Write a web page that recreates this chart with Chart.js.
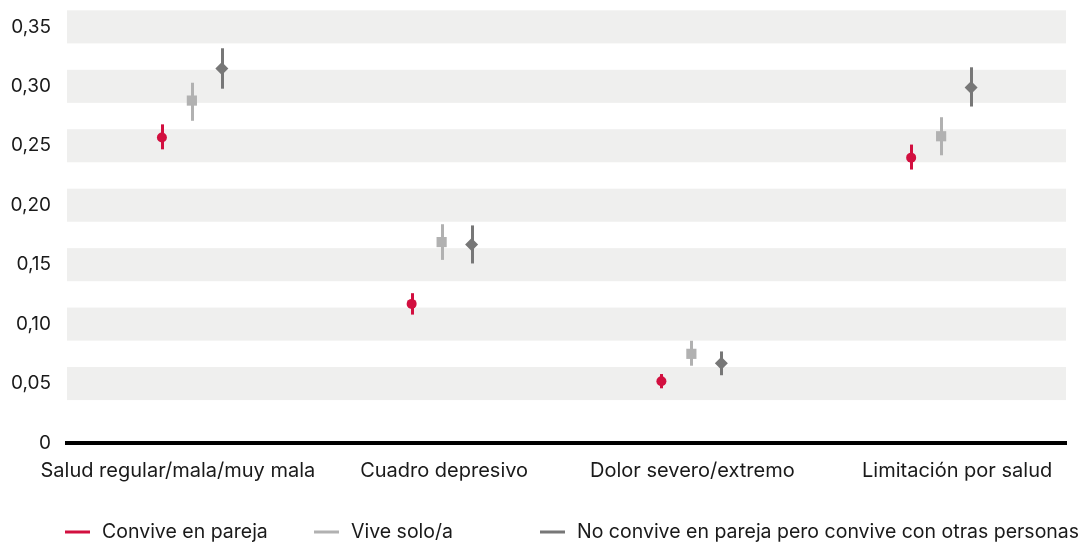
<!DOCTYPE html>
<html>
<head>
<meta charset="utf-8">
<script src="https://cdn.jsdelivr.net/npm/chart.js@4"></script>
<style>
  html, body { margin: 0; padding: 0; background: #fff; }
  #wrap { width: 1079px; height: 543px; }
</style>
</head>
<body>
<div id="wrap"><canvas id="chart"></canvas></div>
<script>
// Data
const categories = [
  'Salud regular/mala/muy mala',
  'Cuadro depresivo',
  'Dolor severo/extremo',
  'Limitación por salud'
];
const yTicks = [0, 0.05, 0.10, 0.15, 0.20, 0.25, 0.30, 0.35];

const pareja      = [0.257, 0.117, 0.052, 0.240];
const parejaLow   = [0.247, 0.108, 0.046, 0.230];
const parejaHigh  = [0.268, 0.126, 0.058, 0.251];

const solo        = [0.288, 0.169, 0.075, 0.258];
const soloLow     = [0.271, 0.154, 0.065, 0.242];
const soloHigh    = [0.303, 0.184, 0.086, 0.274];

const otras       = [0.315, 0.167, 0.067, 0.299];
const otrasLow    = [0.298, 0.151, 0.057, 0.283];
const otrasHigh   = [0.332, 0.183, 0.077, 0.316];

const RED = '#d20f3f';
const LIGHT = '#b1b1b1';
const DARK = '#777777';
const TEXT = '#1a1a1a';
const FONT = 'Inter, "Noto Sans", sans-serif';

// layout tweaks
const shift = 0.12;                          // series offset inside a category
const labelNudge = [-0.056, 0.01, 0.004, 0.064]; // category label offsets
const legendSlots = [65, 314, 540];          // legend item start (px)

function series(label, values, low, high, color, style, radius, offset) {
  return {
    label: label,
    data: values.map((v, i) => ({ x: i + offset, y: v, lo: low[i], hi: high[i] })),
    backgroundColor: color,
    borderColor: color,
    pointStyle: style,
    pointRadius: radius,
    pointHoverRadius: radius,
    borderWidth: 0,
    showLine: false
  };
}

// grey bands around every tick except 0
const bandsPlugin = {
  id: 'bands',
  beforeDraw(chart) {
    const { ctx, chartArea, scales } = chart;
    const y = scales.y;
    ctx.save();
    ctx.fillStyle = '#efefee';
    yTicks.forEach(t => {
      if (t === 0) return;
      const top = y.getPixelForValue(t + 0.0139);
      const bot = y.getPixelForValue(t - 0.0139);
      ctx.fillRect(chartArea.left, top, chartArea.right - chartArea.left, bot - top);
    });
    ctx.restore();
  }
};

// vertical error bars
const errorBarsPlugin = {
  id: 'errorBars',
  beforeDatasetsDraw(chart) {
    const { ctx, scales } = chart;
    ctx.save();
    ctx.lineWidth = 3;
    chart.data.datasets.forEach(ds => {
      ctx.strokeStyle = ds.borderColor;
      ds.data.forEach(p => {
        const x = Math.round(scales.x.getPixelForValue(p.x)) + 0.5;
        ctx.beginPath();
        ctx.moveTo(x, scales.y.getPixelForValue(p.hi));
        ctx.lineTo(x, scales.y.getPixelForValue(p.lo));
        ctx.stroke();
      });
    });
    ctx.restore();
  }
};

// legend with fixed columns
const legendPlugin = {
  id: 'slotLegend',
  afterDraw(chart) {
    const { ctx } = chart;
    const y = 532;
    ctx.save();
    ctx.font = '19.5px ' + FONT;
    ctx.textBaseline = 'middle';
    ctx.textAlign = 'left';
    chart.data.datasets.forEach((ds, i) => {
      const x = legendSlots[i];
      ctx.fillStyle = ds.borderColor;
      ctx.fillRect(x, y - 1.5, 25, 3);
      ctx.fillStyle = TEXT;
      ctx.fillText(ds.label, x + 37, y);
    });
    ctx.restore();
  }
};

const data = {
  datasets: [
    series('Convive en pareja', pareja, parejaLow, parejaHigh, RED, 'circle', 5, -shift),
    series('Vive solo/a', solo, soloLow, soloHigh, LIGHT, 'rect', 7.2, 0),
    series('No convive en pareja pero convive con otras personas', otras, otrasLow, otrasHigh, DARK, 'rectRot', 6.5, shift)
  ]
};

const config = {
  type: 'scatter',
  data: data,
  options: {
    responsive: true,
    maintainAspectRatio: false,
    animation: false,
    layout: { padding: { top: 12, right: 13, bottom: 60, left: 0 } },
    plugins: {
      tooltip: { enabled: false },
      legend: { display: false }
    },
    scales: {
      x: {
        type: 'linear',
        min: -0.5,
        max: 3.5,
        grid: { display: false, drawTicks: false },
        border: { display: true, color: '#000', width: 4 },
        afterBuildTicks(scale) {
          scale.ticks = categories.map((c, i) => ({ value: i + labelNudge[i] }));
        },
        afterFit(scale) {
          scale.height = 40;
          scale.paddingLeft = 0;
          scale.paddingRight = 0;
        },
        ticks: {
          color: TEXT,
          font: { family: FONT, size: 20 },
          padding: 16,
          maxRotation: 0,
          autoSkip: false,
          callback: (v, i) => categories[i]
        }
      },
      y: {
        min: 0,
        max: 0.3625,
        grid: { display: false, drawTicks: false },
        border: { display: false },
        afterBuildTicks(scale) {
          scale.ticks = yTicks.map(v => ({ value: v }));
        },
        afterFit(scale) {
          scale.width = 67;
          scale.paddingTop = 0;
          scale.paddingBottom = 0;
        },
        ticks: {
          color: TEXT,
          font: { family: FONT, size: 19 },
          padding: 16,
          callback: v => v === 0 ? '0' : v.toFixed(2).replace('.', ',')
        }
      }
    }
  },
  plugins: [bandsPlugin, errorBarsPlugin, legendPlugin]
};

const chart = new Chart(document.getElementById('chart'), config);
</script>
</body>
</html>
